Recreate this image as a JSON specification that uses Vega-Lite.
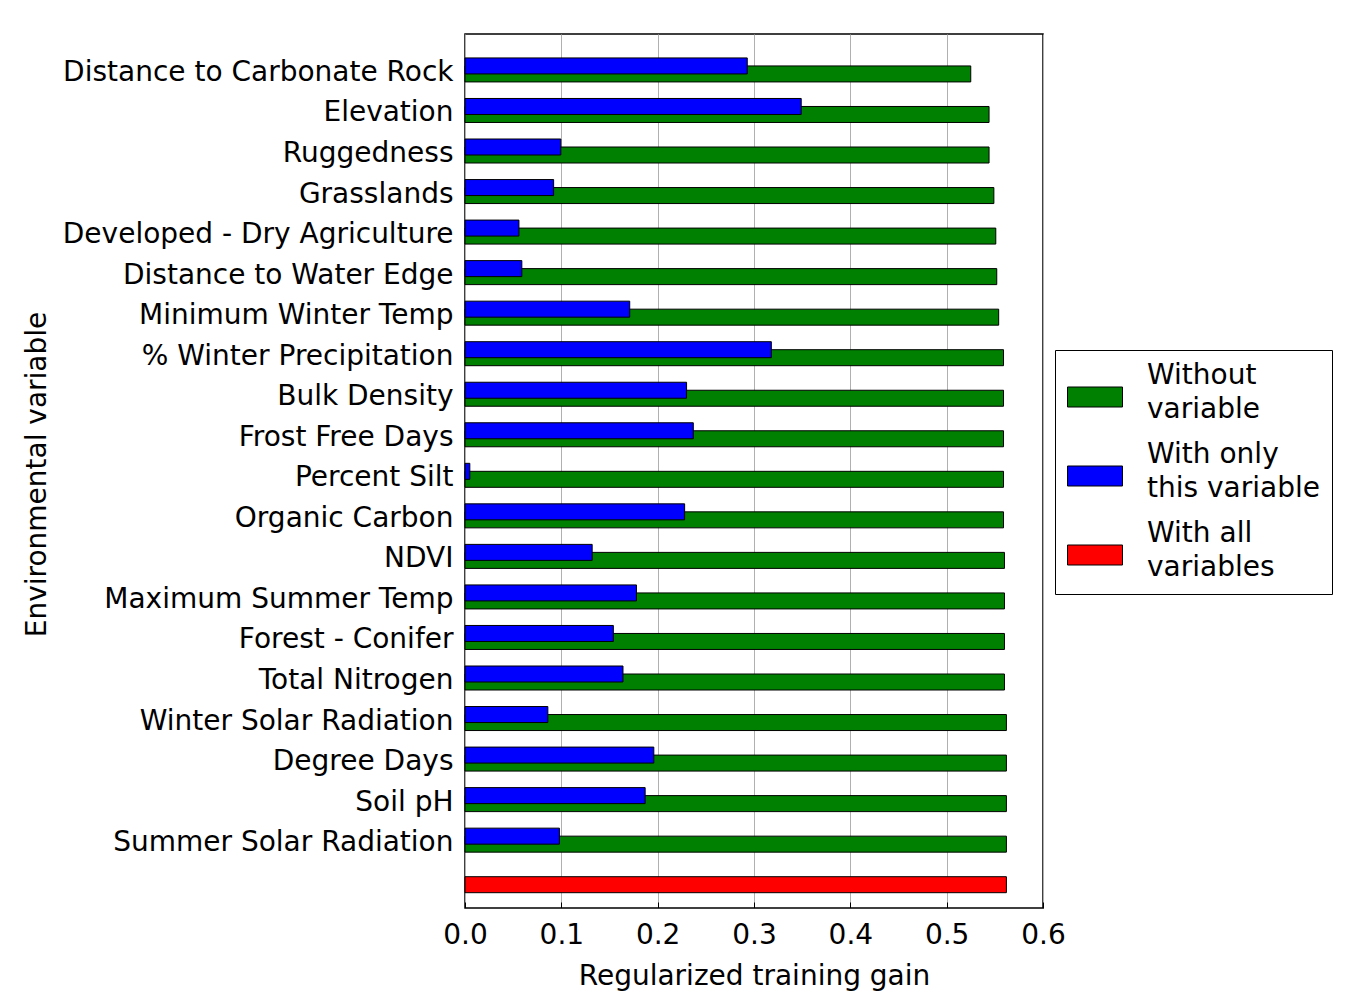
{
  "$schema": "https://vega.github.io/schema/vega-lite/v6.json",
  "width": 578,
  "height": 874,
  "autosize": {"type": "none"},
  "padding": {"left": 465, "top": 34, "right": 309, "bottom": 100},
  "background": "white",
  "config": {
    "font": "DejaVu Sans",
    "view": {"stroke": "black", "strokeWidth": 1.5},
    "style": {"guide-label": {"lineHeight": 34}},
    "axis": {
      "labelFont": "DejaVu Sans",
      "titleFont": "DejaVu Sans",
      "labelColor": "black",
      "titleColor": "black",
      "titleFontWeight": "normal",
      "labelFontSize": 28,
      "titleFontSize": 28,
      "domain": false
    }
  },
  "data": {
    "values": [
      {"variable": "Distance to Carbonate Rock", "series": "Without variable", "gain": 0.525},
      {"variable": "Distance to Carbonate Rock", "series": "With only this variable", "gain": 0.293},
      {"variable": "Elevation", "series": "Without variable", "gain": 0.544},
      {"variable": "Elevation", "series": "With only this variable", "gain": 0.349},
      {"variable": "Ruggedness", "series": "Without variable", "gain": 0.544},
      {"variable": "Ruggedness", "series": "With only this variable", "gain": 0.0995},
      {"variable": "Grasslands", "series": "Without variable", "gain": 0.549},
      {"variable": "Grasslands", "series": "With only this variable", "gain": 0.092},
      {"variable": "Developed - Dry Agriculture", "series": "Without variable", "gain": 0.551},
      {"variable": "Developed - Dry Agriculture", "series": "With only this variable", "gain": 0.056},
      {"variable": "Distance to Water Edge", "series": "Without variable", "gain": 0.552},
      {"variable": "Distance to Water Edge", "series": "With only this variable", "gain": 0.059},
      {"variable": "Minimum Winter Temp", "series": "Without variable", "gain": 0.554},
      {"variable": "Minimum Winter Temp", "series": "With only this variable", "gain": 0.171},
      {"variable": "% Winter Precipitation", "series": "Without variable", "gain": 0.559},
      {"variable": "% Winter Precipitation", "series": "With only this variable", "gain": 0.318},
      {"variable": "Bulk Density", "series": "Without variable", "gain": 0.559},
      {"variable": "Bulk Density", "series": "With only this variable", "gain": 0.230},
      {"variable": "Frost Free Days", "series": "Without variable", "gain": 0.559},
      {"variable": "Frost Free Days", "series": "With only this variable", "gain": 0.237},
      {"variable": "Percent Silt", "series": "Without variable", "gain": 0.559},
      {"variable": "Percent Silt", "series": "With only this variable", "gain": 0.005},
      {"variable": "Organic Carbon", "series": "Without variable", "gain": 0.559},
      {"variable": "Organic Carbon", "series": "With only this variable", "gain": 0.228},
      {"variable": "NDVI", "series": "Without variable", "gain": 0.560},
      {"variable": "NDVI", "series": "With only this variable", "gain": 0.132},
      {"variable": "Maximum Summer Temp", "series": "Without variable", "gain": 0.560},
      {"variable": "Maximum Summer Temp", "series": "With only this variable", "gain": 0.178},
      {"variable": "Forest - Conifer", "series": "Without variable", "gain": 0.560},
      {"variable": "Forest - Conifer", "series": "With only this variable", "gain": 0.154},
      {"variable": "Total Nitrogen", "series": "Without variable", "gain": 0.560},
      {"variable": "Total Nitrogen", "series": "With only this variable", "gain": 0.164},
      {"variable": "Winter Solar Radiation", "series": "Without variable", "gain": 0.562},
      {"variable": "Winter Solar Radiation", "series": "With only this variable", "gain": 0.086},
      {"variable": "Degree Days", "series": "Without variable", "gain": 0.562},
      {"variable": "Degree Days", "series": "With only this variable", "gain": 0.196},
      {"variable": "Soil pH", "series": "Without variable", "gain": 0.562},
      {"variable": "Soil pH", "series": "With only this variable", "gain": 0.187},
      {"variable": "Summer Solar Radiation", "series": "Without variable", "gain": 0.562},
      {"variable": "Summer Solar Radiation", "series": "With only this variable", "gain": 0.098},
      {"variable": "All variables", "series": "With all variables", "gain": 0.562}
    ]
  },
  "encoding": {
    "y": {
      "field": "variable",
      "type": "nominal",
      "scale": {
        "domain": ["Distance to Carbonate Rock", "Elevation", "Ruggedness", "Grasslands", "Developed - Dry Agriculture", "Distance to Water Edge", "Minimum Winter Temp", "% Winter Precipitation", "Bulk Density", "Frost Free Days", "Percent Silt", "Organic Carbon", "NDVI", "Maximum Summer Temp", "Forest - Conifer", "Total Nitrogen", "Winter Solar Radiation", "Degree Days", "Soil pH", "Summer Solar Radiation", "All variables"],
        "paddingInner": 0,
        "paddingOuter": 0.28,
        "align": 0.69
      },
      "axis": {
        "ticks": false,
        "labelPadding": 12,
        "labelOffset": 3,
        "labelLimit": 600,
        "labelExpr": "datum.value == 'All variables' ? '' : datum.label",
        "title": "Environmental variable",
        "titleX": -420,
        "titleY": 440,
        "titleAngle": -90,
        "titleAlign": "center",
        "titleBaseline": "alphabetic"
      }
    },
    "x": {
      "field": "gain",
      "type": "quantitative",
      "scale": {"domain": [0, 0.6], "nice": false},
      "axis": {
        "values": [0, 0.1, 0.2, 0.3, 0.4, 0.5, 0.6],
        "format": ".1f",
        "labelFlush": false,
        "grid": true,
        "gridColor": "#b0b0b0",
        "gridWidth": 1,
        "tickColor": "black",
        "tickSize": -6,
        "labelPadding": 19,
        "title": "Regularized training gain",
        "titleX": 289,
        "titleY": 76,
        "titleAlign": "center",
        "titleBaseline": "alphabetic"
      }
    },
    "color": {
      "field": "series",
      "type": "nominal",
      "scale": {
        "domain": ["Without variable", "With only this variable", "With all variables"],
        "range": ["#008000", "#0000ff", "#ff0000"]
      },
      "legend": {
        "orient": "none",
        "legendX": 590,
        "legendY": 316,
        "title": null,
        "symbolType": "M-1.35,1.1L4.15,1.1L4.15,3.1L-1.35,3.1Z",
        "symbolSize": 400,
        "symbolStrokeColor": "black",
        "symbolStrokeWidth": 1,
        "symbolOpacity": 1,
        "labelFont": "DejaVu Sans",
        "labelFontSize": 28,
        "labelColor": "black",
        "labelLimit": 400,
        "labelOffset": 52,
        "labelExpr": "datum.label == 'Without variable' ? ['Without', 'variable'] : datum.label == 'With only this variable' ? ['With only', 'this variable'] : ['With all', 'variables']",
        "strokeColor": "black",
        "fillColor": "white",
        "padding": 12,
        "rowPadding": 17
      }
    }
  },
  "layer": [
    {
      "transform": [{"filter": "datum.series != 'With only this variable'"}],
      "mark": {"type": "bar", "height": 16, "yOffset": 4, "stroke": "black", "strokeWidth": 1, "opacity": 1}
    },
    {
      "transform": [{"filter": "datum.series == 'With only this variable'"}],
      "mark": {"type": "bar", "height": 16, "yOffset": -4, "stroke": "black", "strokeWidth": 1, "opacity": 1}
    }
  ]
}
